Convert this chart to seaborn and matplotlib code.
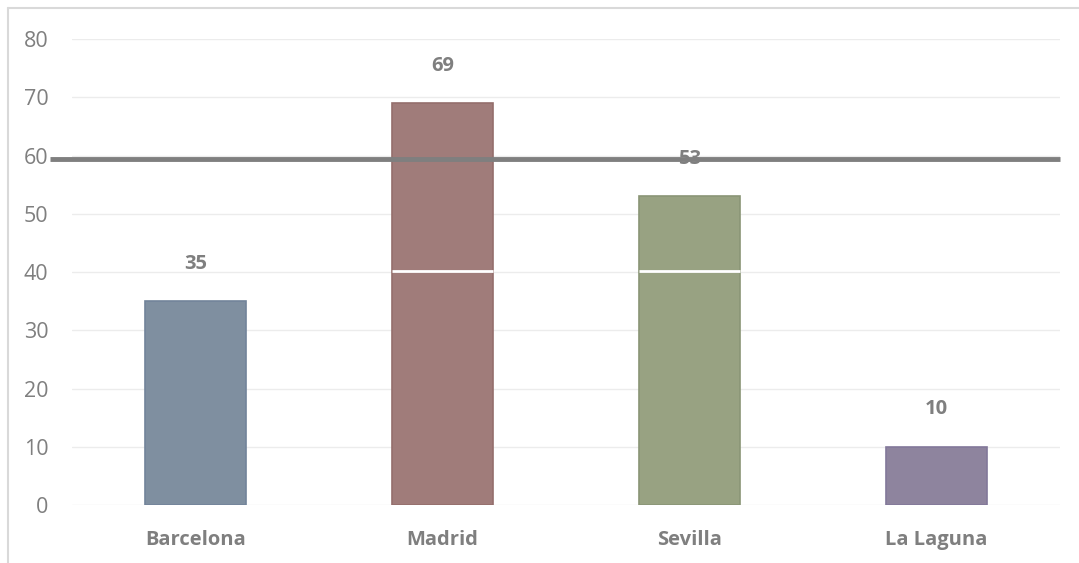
import pandas
import seaborn
import matplotlib.pyplot as plt
from matplotlib.lines import Line2D

# data
cities = ['Barcelona', 'Madrid', 'Sevilla', 'La Laguna']
values = [35, 69, 53, 10]
bar_colors = ['#7f8fa0', '#a07c7a', '#98a282', '#8e849e']
edge_colors = ['#72849a', '#946e6c', '#8a9576', '#82789a']
ref_level = 59.4
gap_level = 40.2
y_ticks = [0, 10, 20, 30, 40, 50, 60, 70, 80]

data = pandas.DataFrame({'city': cities, 'value': values})

seaborn.set_style('white')
plt.rcParams['font.family'] = ['Open Sans', 'DejaVu Sans']

fig = plt.figure(figsize=(10.79, 5.63), dpi=100)
ax = fig.add_axes([0.0667, 0.103, 0.9153, 0.8277])

seaborn.barplot(data=data, x='city', y='value', hue='city',
                palette=bar_colors, width=0.41, legend=False,
                saturation=1, ax=ax, zorder=2)

for patch, ec in zip(ax.patches, edge_colors):
    patch.set_edgecolor(ec)
    patch.set_linewidth(1.2)
    # white seam across the tall bars
    if patch.get_height() > gap_level:
        ax.hlines(gap_level, patch.get_x(), patch.get_x() + patch.get_width(),
                  color='white', lw=2, zorder=3)

for i, v in enumerate(values):
    ax.annotate(str(v), (i, v), xytext=(0, 27), textcoords='offset points',
                ha='center', va='center', fontsize=14.5, fontweight='bold',
                color='#7f7f7f')

ax.set_ylim(0, 80)
ax.set_xlim(-0.5, len(cities) - 0.5)
ax.set_yticks(y_ticks)
ax.grid(axis='y', color='#ececec', lw=1, zorder=0)
ax.set_axisbelow(True)
for s in ax.spines.values():
    s.set_visible(False)

ax.tick_params(axis='y', length=0, pad=17, labelsize=15.5, labelcolor='#7f7f7f')
ax.tick_params(axis='x', length=0, pad=18, labelsize=14.5, labelcolor='#7f7f7f')
for lbl in ax.get_xticklabels():
    lbl.set_fontweight('bold')
ax.set_xlabel('')
ax.set_ylabel('')

# dark reference line, running a bit past the left edge of the plot
ax.plot([-0.59, 3.5], [ref_level, ref_level], color='#7f7f7f', lw=3.5,
        zorder=4, clip_on=False, solid_capstyle='butt')

# chart frame (left and top edges only visible)
fig.add_artist(Line2D([0.0074, 0.0074], [0, 0.986], color='#d9d9d9', lw=1.5))
fig.add_artist(Line2D([0.0074, 1], [0.986, 0.986], color='#d9d9d9', lw=1.5))

plt.savefig('out.png', dpi=100)
